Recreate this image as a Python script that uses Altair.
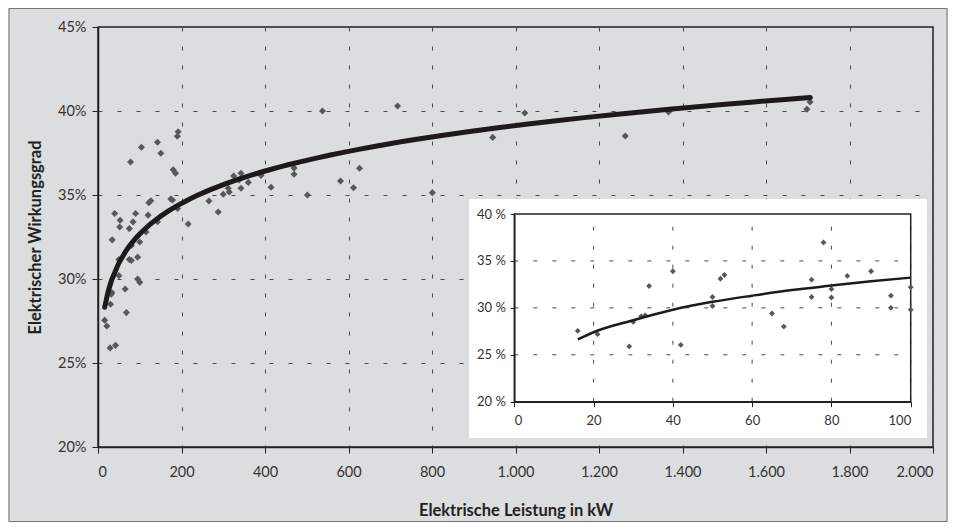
import altair as alt
import pandas as pd

# ---- data ----
# plants up to 100 kW (shown in main chart and in the inset)
small_kw = [16, 21, 29, 30, 32, 33, 34, 40, 42, 50, 50, 52, 53, 65, 68,
            75, 75, 78, 80, 80, 84, 90, 95, 95, 100, 100]
small_eff = [27.55, 27.2, 25.9, 28.5, 29.1, 29.2, 32.33, 33.9, 26.05, 31.16, 30.2,
             33.1, 33.5, 29.4, 28.0, 33.0, 31.16, 36.96, 32.0, 31.1, 33.4, 33.9,
             31.3, 30.0, 32.2, 29.8]
# plants above 100 kW
large_kw = [104, 142.5, 150.5, 192, 190, 180, 185.7, 120, 126.5, 121.7, 174.5, 178.5,
            190.5, 142.5, 115, 216, 265.7, 288, 300, 312, 314.4, 325, 342.5, 342.5,
            338, 360, 390.5, 414.5, 469.6, 469.6, 501.6, 537.6, 580.8, 612, 626.4,
            717.5, 800.8, 945.5, 1022.3, 1263, 1366.5, 1705.6, 1698]
large_eff = [37.84, 38.14, 37.48, 38.77, 38.5, 36.5, 36.3, 33.8, 34.66, 34.54, 34.76, 34.7,
             34.2, 33.41, 32.8, 33.27, 34.64, 33.99, 35.04, 35.4, 35.18, 36.13, 36.29, 35.4,
             35.9, 35.75, 36.17, 35.46, 36.6, 36.23, 35.0, 40.0, 35.83, 35.43, 36.59,
             40.3, 35.14, 38.43, 39.88, 38.51, 39.94, 40.54, 40.1]
# trend line of the inset
inset_curve_kw = [16, 20, 30, 40, 50, 60, 70, 80, 90, 100]
inset_curve_eff = [26.63, 27.4, 28.68, 29.8, 30.64, 31.3, 31.9, 32.37, 32.83, 33.22]

main_x_ticks = list(range(0, 2001, 200))
main_y_ticks = [20, 25, 30, 35, 40, 45]
inset_x_ticks = [0, 20, 40, 60, 80, 100]
inset_y_ticks = [20, 25, 30, 35, 40]
inset_v_grid = [20, 40, 60, 80, 100]
inset_h_grid = [25, 30, 35]

x_title = "Elektrische Leistung in kW"
y_title = "Elektrischer Wirkungsgrad"

# ---- tables ----
main_df = pd.DataFrame({"kw": small_kw + large_kw, "eff": small_eff + large_eff})
inset_df = pd.DataFrame({"kw": small_kw, "eff": small_eff})
inset_curve_df = pd.DataFrame({"kw": inset_curve_kw, "eff": inset_curve_eff})
one = pd.DataFrame({"a": [0]})

FONT = "Lato"
DARK = "#222222"
GRID = "#4a4a4a"
PT = "#58585a"

main_x_scale = alt.Scale(domain=[0, 2000], nice=False, zero=False)
main_y_scale = alt.Scale(domain=[20, 45], nice=False, zero=False)

main_x_axis = alt.Axis(
    orient="bottom", values=main_x_ticks,
    labelExpr="replace(format(datum.value, ',d'), ',', '.')",
    title=x_title, grid=True, gridDash=[4, 15], gridColor=GRID, gridWidth=1,
    domainColor=DARK, domainWidth=1.5, tickColor=DARK, tickSize=6, tickWidth=1,
    labelPadding=12, labelFont=FONT, labelFontSize=14.5, labelColor="#333333",
    titleFont=FONT, titleFontSize=16.5, titleFontWeight="bold", titleColor=DARK,
    titlePadding=24,
)
main_y_axis = alt.Axis(
    orient="left", values=main_y_ticks, labelExpr="datum.value + '%'",
    title=y_title, grid=True, gridDash=[4, 15], gridColor=GRID, gridWidth=1,
    domainColor=DARK, domainWidth=1.5, tickColor=DARK, tickSize=6, tickWidth=1,
    labelPadding=6, labelFont=FONT, labelFontSize=14.5, labelColor="#333333",
    titleFont=FONT, titleFontSize=16.5, titleFontWeight="bold", titleColor=DARK,
    titlePadding=14,
)

frame = alt.Chart(one).mark_rect(fill=None, stroke="#777777", strokeWidth=1).encode(
    x=alt.value(-89), x2=alt.value(849), y=alt.value(-18.5), y2=alt.value(494.5)
)

main_points = alt.Chart(main_df).mark_point(
    shape="diamond", filled=True, size=50, color=PT, opacity=1
).encode(
    x=alt.X("kw:Q", scale=main_x_scale, axis=main_x_axis),
    y=alt.Y("eff:Q", scale=main_y_scale, axis=main_y_axis),
)

main_curve = alt.Chart(main_df).transform_regression(
    "kw", "eff", method="pow", extent=[16, 1706]
).mark_line(color="#1e1a1b", strokeWidth=5, strokeCap="round").encode(
    x=alt.X("kw:Q", scale=main_x_scale, axis=None),
    y=alt.Y("eff:Q", scale=main_y_scale, axis=None),
)

# ---- inset ----
inset_x_scale = alt.Scale(domain=[0, 100], range=[416.3, 812.7], nice=False, zero=False)
inset_y_scale = alt.Scale(domain=[20, 40], range=[374.7, 187], nice=False, zero=False)

inset_x_axis = alt.Axis(
    orient="bottom", offset=-45.3, values=inset_x_ticks, title=None, grid=False,
    domainColor=DARK, domainWidth=1.5, tickColor=DARK, tickSize=5,
    labelPadding=8, labelFont=FONT, labelFontSize=13, labelColor="#333333",
    zindex=1,
)
inset_y_axis = alt.Axis(
    orient="left", offset=-416.3, values=inset_y_ticks, title=None, grid=False,
    labelExpr="datum.value + ' %'",
    domainColor=DARK, domainWidth=1.5, tickColor=DARK, tickSize=4,
    labelPadding=5, labelFont=FONT, labelFontSize=13, labelColor="#333333",
    zindex=1,
)

inset_bg = alt.Chart(one).mark_rect(fill="white", stroke=None).encode(
    x=alt.value(371), x2=alt.value(829), y=alt.value(172), y2=alt.value(411)
)

vgrid = alt.Chart(pd.DataFrame({"kw": inset_v_grid})).mark_rule(
    color=GRID, strokeDash=[4, 15], strokeWidth=1
).encode(
    x=alt.X("kw:Q", scale=inset_x_scale, axis=None),
    y=alt.Y(datum=20, scale=inset_y_scale, axis=None),
    y2=alt.Y2(datum=40),
)
hgrid = alt.Chart(pd.DataFrame({"eff": inset_h_grid})).mark_rule(
    color=GRID, strokeDash=[4, 15], strokeWidth=1
).encode(
    y=alt.Y("eff:Q", scale=inset_y_scale, axis=None),
    x=alt.X(datum=0, scale=inset_x_scale, axis=None),
    x2=alt.X2(datum=100),
)
box = alt.Chart(one).mark_rect(fill=None, stroke=DARK, strokeWidth=1.5).encode(
    x=alt.X(datum=0, scale=inset_x_scale, axis=None),
    x2=alt.X2(datum=100),
    y=alt.Y(datum=20, scale=inset_y_scale, axis=None),
    y2=alt.Y2(datum=40),
)

inset_points = alt.Chart(inset_df).mark_point(
    shape="diamond", filled=True, size=34, color=PT, opacity=1
).encode(
    x=alt.X("kw:Q", scale=inset_x_scale, axis=inset_x_axis),
    y=alt.Y("eff:Q", scale=inset_y_scale, axis=inset_y_axis),
)
inset_curve = alt.Chart(inset_curve_df).mark_line(
    color="#1e1a1b", strokeWidth=2.5, interpolate="monotone"
).encode(
    x=alt.X("kw:Q", scale=inset_x_scale, axis=None),
    y=alt.Y("eff:Q", scale=inset_y_scale, axis=None),
)

chart = alt.layer(
    frame, main_points, main_curve,
    inset_bg, vgrid, hgrid, box, inset_points, inset_curve,
).resolve_scale(
    x="independent", y="independent"
).resolve_axis(
    x="independent", y="independent"
).properties(
    width=835, height=420,
    padding={"left": 90, "top": 19, "right": 15, "bottom": 75},
    autosize=alt.AutoSizeParams(type="none"),
    background="#dcdddf",
).configure_view(stroke=DARK, strokeWidth=1.5, fill=None)

chart.save("out.html", embed_options={"renderer": "svg", "actions": False})
